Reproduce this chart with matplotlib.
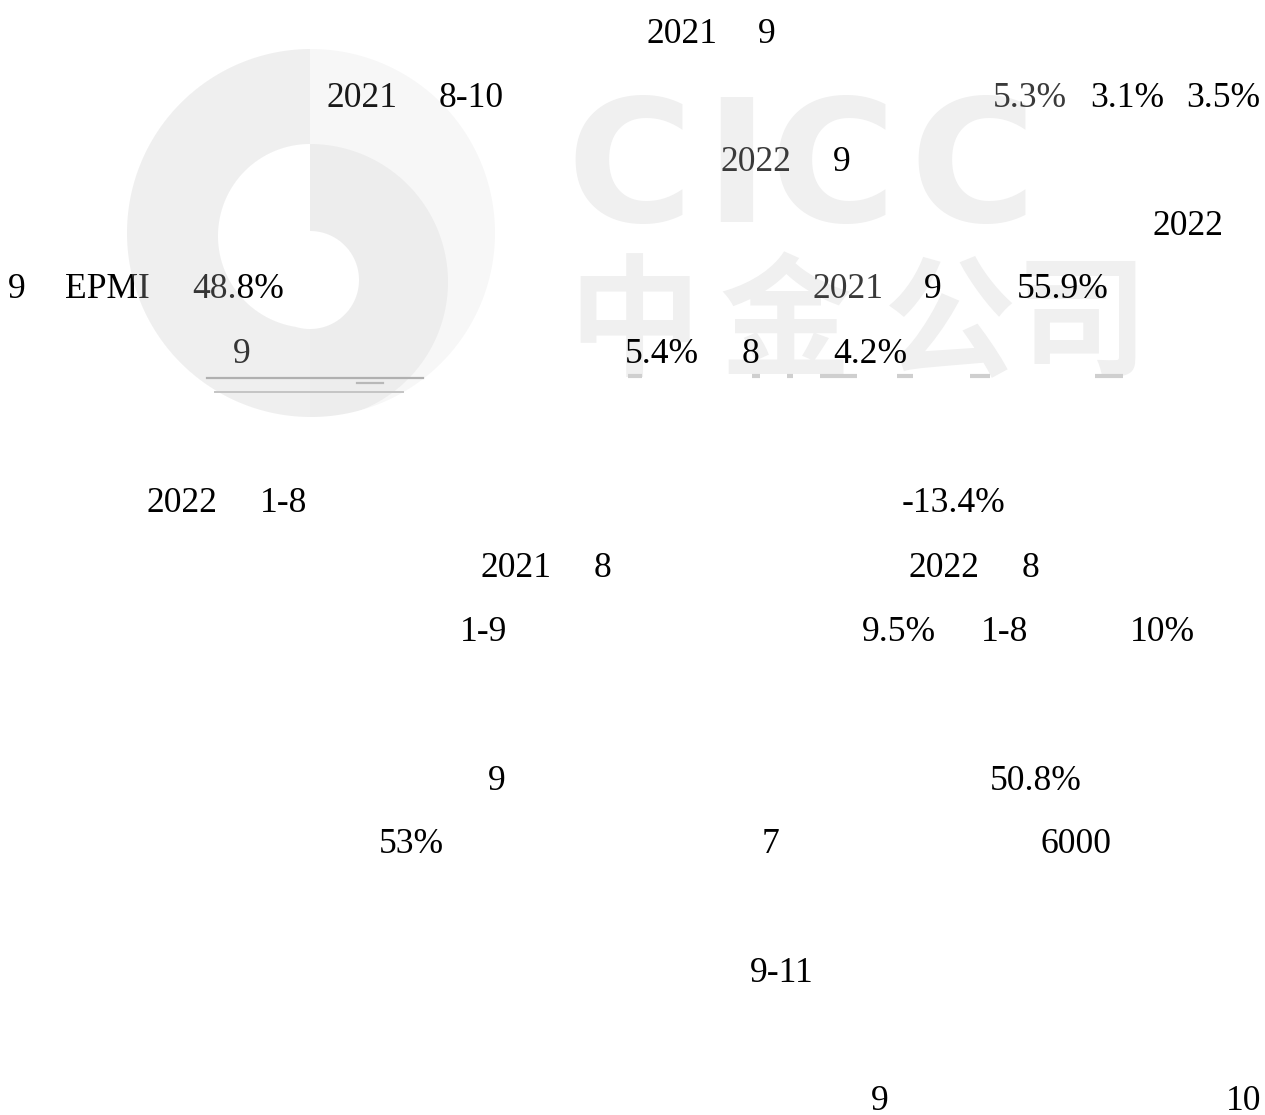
import numpy as np
import matplotlib
matplotlib.use("Agg")
import matplotlib.pyplot as plt

# ---------------------------------------------------------------------------
# Page content: visible text fragments of each line (CJK glyphs were lost)
# ---------------------------------------------------------------------------

LINES = [
    ["2021", "9"],
    ["2021", "8-10", "5.3%", "3.1%", "3.5%"],
    ["2022", "9"],
    ["2022"],
    ["9", "EPMI", "48.8%", "2021", "9", "55.9%"],
    ["9", "5.4%", "8", "4.2%"],
    ["2022", "1-8", "-13.4%"],
    ["2021", "8", "2022", "8"],
    ["1-9", "9.5%", "1-8", "10%"],
    ["9", "50.8%"],
    ["53%", "7", "6000"],
    ["9-11"],
    ["9", "10"],
]

# layout (pixels): baseline of each line, left edge of each fragment
BASELINES = [43, 107, 171, 235, 298, 363, 512, 577, 641, 790, 853, 982, 1110]
X_LEFT = [
    [647, 758],
    [327, 439, 993, 1090, 1186],
    [721, 833],
    [1152],
    [8, 65, 192, 813, 924, 1017],
    [233, 625, 742, 833],
    [147, 260, 902],
    [480, 594, 908, 1022],
    [460, 862, 981, 1130],
    [488, 990],
    [379, 762, 1040],
    [750],
    [871, 1226],
]
GRAY = {(2, 0), (4, 3), (1, 2)}

W, H = 1265, 1115
fig = plt.figure(figsize=(W / 100, H / 100), dpi=100)
ax = fig.add_axes([0, 0, 1, 1])
ax.set_xlim(0, W)
ax.set_ylim(H, 0)
ax.axis("off")

# ---------------------------------------------------------------------------
# Watermark text (behind)
# ---------------------------------------------------------------------------
WM = "#f0f0f0"
for ch, cx in zip("CICC", [630, 736, 833, 973]):
    ax.text(cx, 222, ch, fontsize=124, fontweight="bold", family="DejaVu Sans",
            color=WM, ha="center", va="baseline", zorder=0)
for ch, cx in zip("中金公司", [634, 785, 950, 1082]):
    ax.text(cx, 326, ch, fontsize=95, fontweight="bold", family="Noto Sans CJK SC",
            color=WM, ha="center", va="center", zorder=0)

# ---------------------------------------------------------------------------
# Text
# ---------------------------------------------------------------------------
for i, (frags, y, xs) in enumerate(zip(LINES, BASELINES, X_LEFT)):
    for j, (s, x) in enumerate(zip(frags, xs)):
        col = "#3a3a3a" if (i, j) in GRAY else "black"
        ax.text(x, y, s, fontsize=25.6, family="Liberation Serif", color=col,
                ha="left", va="baseline", zorder=2)

# ---------------------------------------------------------------------------
# Logo watermark drawn over text with transparency
# ---------------------------------------------------------------------------
x0, x1, y0, y1 = 115, 505, 40, 426
gx, gy = np.meshgrid(np.arange(x0, x1) + 0.5, np.arange(y0, y1) + 0.5)

def cover(cx, cy, r):
    d = np.hypot(gx - cx, gy - cy)
    return np.clip(r - d + 0.5, 0, 1)

outer = cover(311, 233, 184)
inner = cover(310, 282, 138)
right = np.clip(gx - 310 + 0.5, 0, 1)
val = 0.938 * (1 - right) + right * (0.970 * (1 - inner) + 0.930 * inner)
hole = np.maximum(cover(310, 236, 92) * (1 - right), cover(310, 280, 49))
g = (1 - val) * outer * (1 - hole)
c = 0.774
rgba = np.zeros(gx.shape + (4,))
rgba[..., :3] = c
rgba[..., 3] = np.clip(g / (1 - c), 0, 1)
ax.imshow(rgba, extent=[x0, x1, y1, y0], origin="upper", zorder=3,
          interpolation="bilinear", aspect="auto")
ax.set_xlim(0, W)
ax.set_ylim(H, 0)

# stray rule fragments
ax.plot([207, 423], [378, 378], color="#b0b0b0", lw=1.6, zorder=4)
ax.plot([357, 383], [383, 383], color="#b8b8b8", lw=1.6, zorder=4)
ax.plot([215, 403], [392, 392], color="#c4c4c4", lw=1.4, zorder=4)
for a, b in [(628, 642), (752, 760), (787, 793), (820, 857), (897, 913),
             (970, 990), (1095, 1123)]:
    ax.plot([a, b], [376, 376], color="#cfcfcf", lw=3, zorder=1,
            solid_capstyle="butt")

fig.savefig("out.png", dpi=100)
